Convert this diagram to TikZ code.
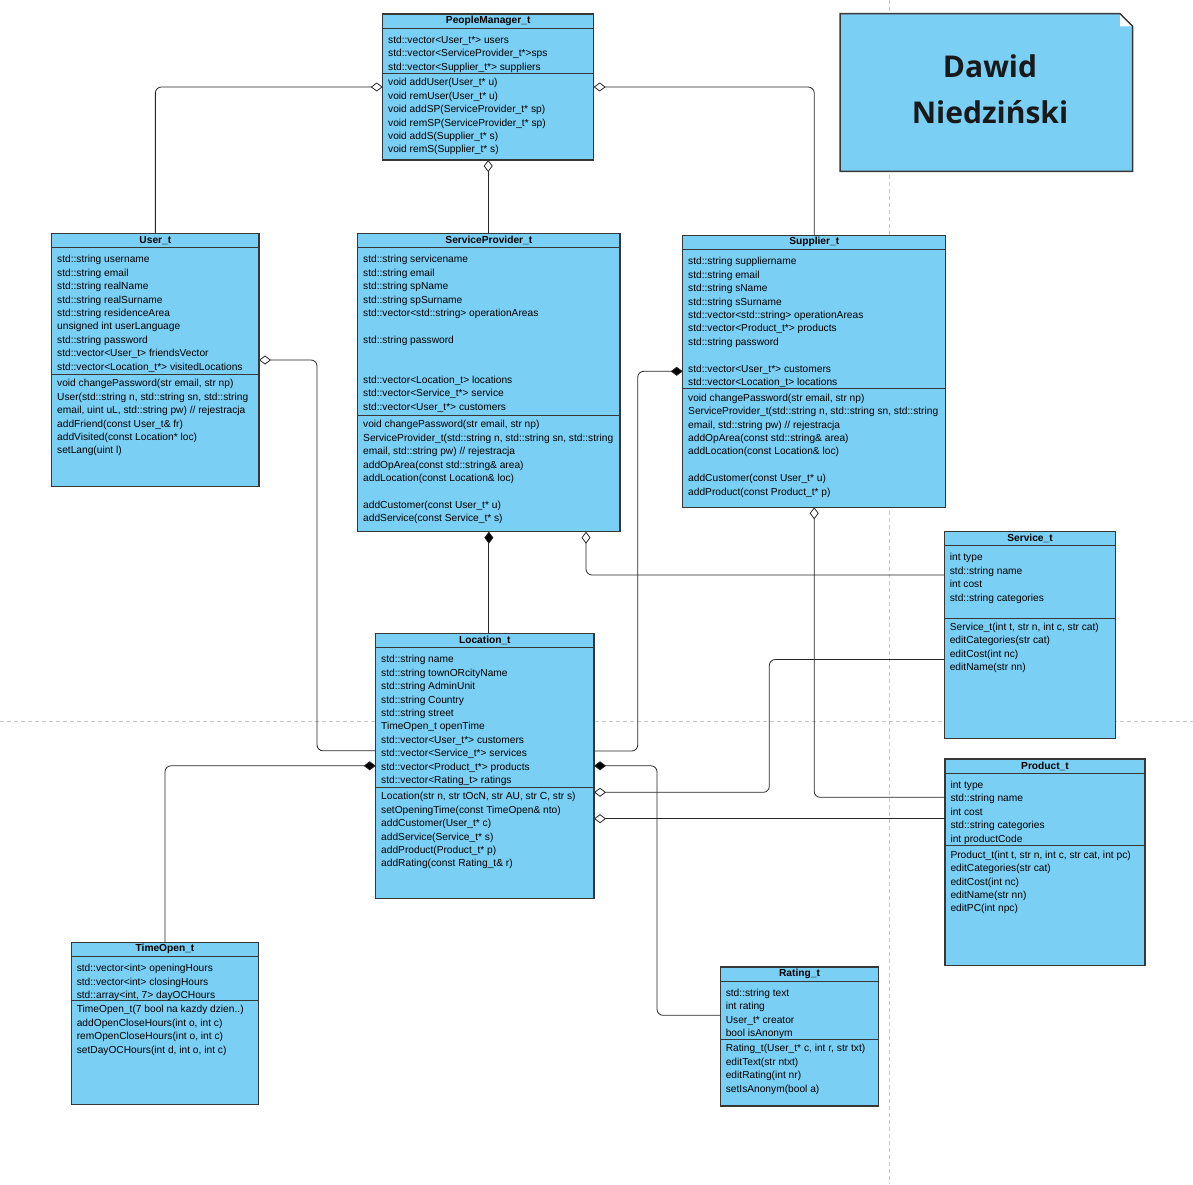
\documentclass[tikz,border=0pt]{standalone}
\usepackage{fontspec}
\setmainfont{Liberation Sans}
\newfontfamily\notefont{Open Sans}
\usetikzlibrary{arrows.meta,calc}

\definecolor{classfill}{RGB}{122,207,245}
\definecolor{classedge}{RGB}{55,55,55}
\definecolor{pagegrid}{RGB}{200,200,200}

\begin{document}
\begin{tikzpicture}[x=1pt,y=-1pt,
    classbox/.style={draw=classedge,line width=1.3pt,fill=classfill,anchor=north west,inner sep=0,outer sep=0},
    classline/.style={draw=classedge,line width=1pt},
    titletext/.style={font=\fontsize{10.2}{13.4}\selectfont\bfseries,inner sep=0},
    membertext/.style={anchor=north west,align=left,inner sep=0,font=\fontsize{10.2}{13.4}\selectfont},
    connector/.style={draw=black!85,line width=0.8pt,rounded corners=6pt},
    agg/.style={connector,{Diamond[open,fill=white,length=12pt,width=9pt]}-},
    comp/.style={connector,{Diamond[fill=black,length=12pt,width=9pt]}-},
    pagebreak/.style={draw=pagegrid,line width=0.7pt,dash pattern=on 4pt off 3pt},
    notetext/.style={align=center,inner sep=0,font=\notefont\bfseries\fontsize{30}{46}\selectfont,text=black!90}]
    \useasboundingbox (0,0) rectangle (1193,1184);
    \providecommand{\umlclass}[9]{%
        \node[classbox,minimum width=#4pt,minimum height=#5pt] (#1) at (#2,#3) {};
        \draw[classline] ([yshift=-14pt]#1.north west) -- ([yshift=-14pt]#1.north east);
        \node[titletext] at ([yshift=-7pt]#1.north) {#6};
        \draw[classline] ([yshift=-#7pt]#1.north west) -- ([yshift=-#7pt]#1.north east);
        \node[membertext] at ([shift={(5.3pt,-20pt)}]#1.north west) {\strut #8};
        \node[membertext] at ([shift={(5.3pt,-#7pt-3pt)}]#1.north west) {\strut #9};
    }
    % page breaks
    \draw[pagebreak] (889,0) -- (889,1184);
    \draw[pagebreak] (0,721.7) -- (1193,721.7);
    % note
    \fill[classfill] (840,13.7) -- (1120,13.7) -- (1132.7,26.3) -- (1132.7,171.3) -- (840,171.3) -- cycle;
    \fill[white] (1120,13.7) -- (1132.7,26.3) -- (1120,26.3) -- cycle;
    \draw[classedge,line width=1.5pt] (840,13.7) -- (1120,13.7) -- (1132.7,26.3) -- (1132.7,171.3) -- (840,171.3) -- cycle;
    \node[notetext] (author) at (990,89.3) {Dawid\\Niedziński};
    % classes
    \umlclass{pm}{382.7}{14}{211}{146}{PeopleManager\_t}{59.3}
        {std::vector<User\_t*> users\\std::vector<ServiceProvider\_t*>sps\\std::vector<Supplier\_t*> suppliers}
        {void addUser(User\_t* u)\\void remUser(User\_t* u)\\void addSP(ServiceProvider\_t* sp)\\void remSP(ServiceProvider\_t* sp)\\void addS(Supplier\_t* s)\\void remS(Supplier\_t* s)}
    \umlclass{user}{51.7}{233.3}{207.3}{253.4}{User\_t}{141}
        {std::string username\\std::string email\\std::string realName\\std::string realSurname\\std::string residenceArea\\unsigned int userLanguage\\std::string password\\std::vector<User\_t> friendsVector\\std::vector<Location\_t*> visitedLocations}
        {void changePassword(str email, str np)\\User(std::string n, std::string sn, std::string\\email, uint uL, std::string pw) // rejestracja\\addFriend(const User\_t\& fr)\\addVisited(const Location* loc)\\setLang(uint l)}
    \umlclass{sp}{357.7}{233.3}{262.3}{298.4}{ServiceProvider\_t}{182}
        {std::string servicename\\std::string email\\std::string spName\\std::string spSurname\\std::vector<std::string> operationAreas\\[13.4pt]std::string password\\[26.8pt]std::vector<Location\_t> locations\\std::vector<Service\_t*> service\\std::vector<User\_t*> customers}
        {void changePassword(str email, str np)\\ServiceProvider\_t(std::string n, std::string sn, std::string\\email, std::string pw) // rejestracja\\addOpArea(const std::string\& area)\\addLocation(const Location\& loc)\\[13.4pt]addCustomer(const User\_t* u)\\addService(const Service\_t* s)}
    \umlclass{supplier}{682.7}{235.3}{263}{272}{Supplier\_t}{153.4}
        {std::string suppliername\\std::string email\\std::string sName\\std::string sSurname\\std::vector<std::string> operationAreas\\std::vector<Product\_t*> products\\std::string password\\[13.4pt]std::vector<User\_t*> customers\\std::vector<Location\_t> locations}
        {void changePassword(str email, str np)\\ServiceProvider\_t(std::string n, std::string sn, std::string\\email, std::string pw) // rejestracja\\addOpArea(const std::string\& area)\\addLocation(const Location\& loc)\\[13.4pt]addCustomer(const User\_t* u)\\addProduct(const Product\_t* p)}
    \umlclass{loc}{375.7}{633.3}{218.3}{265}{Location\_t}{154}
        {std::string name\\std::string townORcityName\\std::string AdminUnit\\std::string Country\\std::string street\\TimeOpen\_t openTime\\std::vector<User\_t*> customers\\std::vector<Service\_t*> services\\std::vector<Product\_t*> products\\std::vector<Rating\_t> ratings}
        {Location(str n, str tOcN, str AU, str C, str s)\\setOpeningTime(const TimeOpen\& nto)\\addCustomer(User\_t* c)\\addService(Service\_t* s)\\addProduct(Product\_t* p)\\addRating(const Rating\_t\& r)}
    \umlclass{service}{944.3}{531.3}{171.4}{207.4}{Service\_t}{86.7}
        {int type\\std::string name\\int cost\\std::string categories}
        {Service\_t(int t, str n, int c, str cat)\\editCategories(str cat)\\editCost(int nc)\\editName(str nn)}
    \umlclass{product}{945}{759}{200}{206.7}{Product\_t}{86.7}
        {int type\\std::string name\\int cost\\std::string categories\\int productCode}
        {Product\_t(int t, str n, int c, str cat, int pc)\\editCategories(str cat)\\editCost(int nc)\\editName(str nn)\\editPC(int npc)}
    \umlclass{timeopen}{71.3}{942.3}{187.4}{162.4}{TimeOpen\_t}{58}
        {std::vector<int> openingHours\\std::vector<int> closingHours\\std::array<int, 7> dayOCHours}
        {TimeOpen\_t(7 bool na kazdy dzien..)\\addOpenCloseHours(int o, int c)\\remOpenCloseHours(int o, int c)\\setDayOCHours(int d, int o, int c)}
    \umlclass{rating}{720.3}{967}{158.4}{139}{Rating\_t}{72.3}
        {std::string text\\int rating\\User\_t* creator\\bool isAnonym}
        {Rating\_t(User\_t* c, int r, str txt)\\editText(str ntxt)\\editRating(int nr)\\setIsAnonym(bool a)}
    % associations
    \draw[agg] (pm.west) -| (user.north);
    \draw[agg] (pm.east) -| (supplier.north);
    \draw[agg] (pm.south) -- (pm.south |- sp.north);
    \draw[agg] (user.east) -- ++(58,0) |- ($(loc.north west)+(0,117.5)$);
    \draw[comp] (sp.south) -- (sp.south |- loc.north);
    \draw[agg] ($(sp.south west)+(228.3,0)$) |- ($(service.north west)+(0,43.7)$);
    \draw[comp] (supplier.west) -- ++(-45,0) |- ($(loc.north east)+(0,117.7)$);
    \draw[agg] (supplier.south) |- ($(product.north west)+(0,38.3)$);
    \draw[comp] (loc.west) -| (timeopen.north);
    \draw[comp] (loc.east) -- ++(63,0) |- ($(rating.north west)+(0,48.3)$);
    \draw[agg] ($(loc.north east)+(0,159)$) -- ++(175.3,0) |- ($(service.north west)+(0,128.2)$);
    \draw[agg] ($(loc.north east)+(0,185.4)$) -- ($(product.north west)+(0,59.7)$);
\end{tikzpicture}
\end{document}
